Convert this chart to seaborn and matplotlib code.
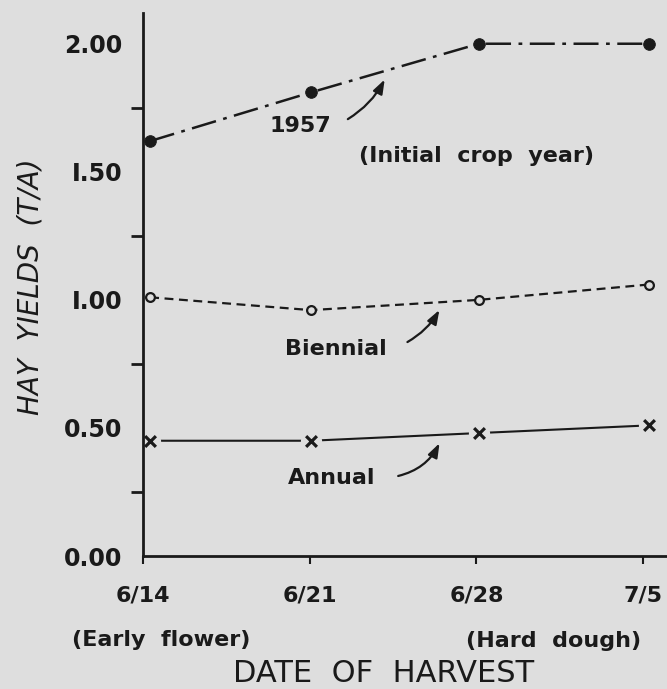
import matplotlib
matplotlib.use("Agg")
import matplotlib.pyplot as plt
import seaborn as sns
import pandas as pd

# ---- data ----
dates = ["6/14", "6/21", "6/28", "7/5"]
date_ticks = [0, 7, 14, 21]                 # days after 6/14
harvest_pos = [0.3, 7.05, 14.1, 21.25]      # plotted x (days)
yield_1957 = [1.62, 1.81, 2.00, 2.00]
yield_biennial = [1.01, 0.96, 1.00, 1.06]
yield_annual = [0.45, 0.45, 0.48, 0.51]
y_major = [0.0, 0.5, 1.0, 1.5, 2.0]
y_major_labels = ["0.00", "0.50", "I.00", "I.50", "2.00"]
y_minor = [0.25, 0.75, 1.25, 1.75]

BG = "#dedede"
sns.set_theme(style="white")
plt.rcParams["font.family"] = ["DejaVu Sans"]
plt.rcParams["text.color"] = "k"

fig = plt.figure(figsize=(6.67, 6.89), dpi=100, facecolor=BG)
W, H = 667, 689
ax = fig.add_axes([143 / W, 1 - 556 / H, 524 / W, 543 / H])
ax.set_facecolor(BG)

df = pd.DataFrame({"day": harvest_pos, "y57": yield_1957,
                   "bi": yield_biennial, "an": yield_annual})

# 1957 dash-dot with filled dots
sns.lineplot(data=df, x="day", y="y57", ax=ax, color="k", lw=1.8,
             linestyle=(0, (10, 3, 1.5, 3)), clip_on=False)
sns.scatterplot(data=df, x="day", y="y57", ax=ax, color="k", s=70, marker="o",
                edgecolor="k", zorder=5, clip_on=False)

# Biennial dashed with open circles
sns.lineplot(data=df, x="day", y="bi", ax=ax, color="k", lw=1.6,
             linestyle=(0, (4, 2.5)), clip_on=False)
sns.scatterplot(data=df, x="day", y="bi", ax=ax, s=40, marker="o",
                facecolor=BG, edgecolor="k", linewidth=1.6, zorder=5, clip_on=False)

# Annual solid with x markers (small gap around each x)
sns.lineplot(data=df, x="day", y="an", ax=ax, color="k", lw=1.5, clip_on=False)
sns.scatterplot(data=df, x="day", y="an", ax=ax, s=200, marker="o",
                color=BG, edgecolor=BG, zorder=2.2, clip_on=False)
sns.scatterplot(data=df, x="day", y="an", ax=ax, s=60, marker="x",
                color="k", linewidth=2.3, zorder=5, clip_on=False)

ax.set_xlim(0, 22)
ax.set_ylim(0, 2.12)
ax.set_xlabel("")
ax.set_ylabel("")

for s in ["top", "right"]:
    ax.spines[s].set_visible(False)
for s in ["left", "bottom"]:
    ax.spines[s].set_color("k")
    ax.spines[s].set_linewidth(2.0)
    ax.spines[s].set_zorder(3)

ax.set_yticks(y_major)
ax.set_yticklabels(y_major_labels, fontsize=17, fontweight="bold")
ax.set_yticks(y_minor, minor=True)
ax.tick_params(axis="y", which="major", direction="out", length=9, width=2, pad=6, color="k")
ax.tick_params(axis="y", which="minor", direction="out", length=9, width=2, color="k", left=True)
ax.set_xticks(date_ticks)
ax.set_xticklabels(dates, fontsize=16, fontweight="bold")
ax.tick_params(axis="x", which="major", direction="out", length=6, width=1.5, pad=15,
               color="k", bottom=True)
for lab in ax.get_yticklabels() + ax.get_xticklabels():
    lab.set_color("k")

# annotations
tkw = dict(fontsize=16, fontweight="bold", color="k")
akw = dict(arrowstyle="-|>,head_length=0.7,head_width=0.25", color="k", lw=1.6)
ax.text(6.6, 1.68, "1957", ha="center", va="center", **tkw)
ax.text(14.0, 1.56, "(Initial  crop  year)", ha="center", va="center", **tkw)
ax.annotate("", xy=(10.2, 1.87), xytext=(8.5, 1.70),
            arrowprops=dict(connectionstyle="arc3,rad=0.15", **akw))
ax.text(8.1, 0.81, "Biennial", ha="center", va="center", **tkw)
ax.annotate("", xy=(12.5, 0.97), xytext=(11.0, 0.83),
            arrowprops=dict(connectionstyle="arc3,rad=0.15", **akw))
ax.text(7.9, 0.305, "Annual", ha="center", va="center", **tkw)
ax.annotate("", xy=(12.5, 0.45), xytext=(10.6, 0.31),
            arrowprops=dict(connectionstyle="arc3,rad=0.25", **akw))

# axis titles / bottom captions
fig.text(30 / W, 1 - 287 / H, "HAY  YIELDS  (T/A)", rotation=90, ha="center", va="center",
         fontsize=20, fontstyle="italic", color="k")
fig.text(161 / W, 1 - 640 / H, "(Early  flower)", ha="center", va="center",
         fontsize=16, fontweight="bold", color="k")
fig.text(554 / W, 1 - 641 / H, "(Hard  dough)", ha="center", va="center",
         fontsize=16, fontweight="bold", color="k")
fig.text(384 / W, 1 - 674 / H, "DATE  OF  HARVEST", ha="center", va="center",
         fontsize=22, color="k")

fig.savefig("out.png", dpi=100, facecolor=BG)
